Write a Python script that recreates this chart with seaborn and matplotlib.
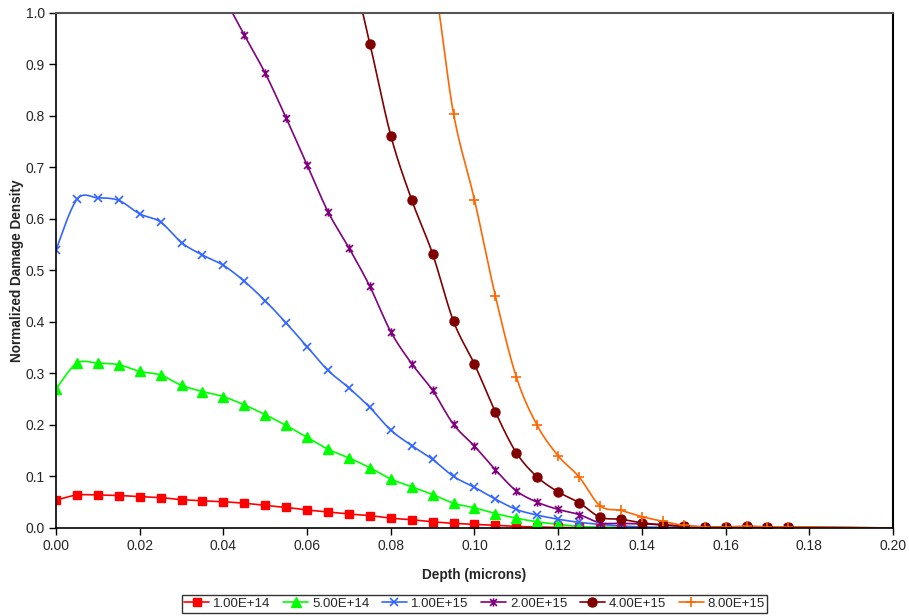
import numpy as np
import pandas as pd
import matplotlib
matplotlib.use("Agg")
import matplotlib.pyplot as plt
from matplotlib.lines import Line2D
from matplotlib.path import Path
import seaborn as sns

# depth points (microns); last point at 0.20 carries the line to the edge without a marker
depth = [0.000, 0.005, 0.010, 0.015, 0.020, 0.025, 0.030, 0.035, 0.040, 0.045,
         0.050, 0.055, 0.060, 0.065, 0.070, 0.075, 0.080, 0.085, 0.090, 0.095,
         0.100, 0.105, 0.110, 0.115, 0.120, 0.125, 0.130, 0.135, 0.140, 0.145,
         0.150, 0.155, 0.160, 0.165, 0.170, 0.175, 0.200]

dose_labels = ["1.00E+14", "5.00E+14", "1.00E+15", "2.00E+15", "4.00E+15", "8.00E+15"]

d_1e14 = [0.054, 0.064, 0.064, 0.063, 0.061, 0.059, 0.055, 0.053, 0.051, 0.048,
          0.044, 0.040, 0.035, 0.031, 0.027, 0.024, 0.019, 0.016, 0.012, 0.009,
          0.007, 0.005, 0.003, 0.002, 0.001, 0.001, 0.0005, 0.0004, 0.0003, 0.0002,
          0.0001, 0.0001, 0.0001, 0.0, 0.0, 0.0, 0.0]
d_5e14 = [0.270, 0.320, 0.320, 0.317, 0.304, 0.297, 0.277, 0.265, 0.255, 0.239,
          0.220, 0.199, 0.176, 0.153, 0.136, 0.117, 0.095, 0.080, 0.065, 0.048,
          0.039, 0.028, 0.019, 0.012, 0.007, 0.003, 0.002, 0.001, 0.001, 0.0005,
          0.0003, 0.0002, 0.0001, 0.0001, 0.0, 0.0, 0.0]
d_1e15 = [0.540, 0.638, 0.641, 0.636, 0.610, 0.594, 0.554, 0.530, 0.510, 0.479,
          0.441, 0.398, 0.352, 0.306, 0.272, 0.234, 0.190, 0.160, 0.133, 0.100,
          0.079, 0.056, 0.036, 0.025, 0.017, 0.011, 0.007, 0.004, 0.002, 0.001,
          0.001, 0.0005, 0.0003, 0.0002, 0.0001, 0.0, 0.0]
d_2e15 = [1.60, 1.52, 1.44, 1.36, 1.28, 1.20, 1.14, 1.08, 1.03, 0.957,
          0.883, 0.796, 0.705, 0.614, 0.544, 0.469, 0.381, 0.319, 0.267, 0.201,
          0.159, 0.113, 0.072, 0.050, 0.036, 0.026, 0.010, 0.009, 0.008, 0.006,
          0.004, 0.002, 0.002, 0.002, 0.001, 0.001, 0.0]
d_4e15 = [1.90, 1.85, 1.80, 1.74, 1.68, 1.62, 1.55, 1.48, 1.41, 1.34,
          1.28, 1.22, 1.18, 1.14, 1.10, 0.940, 0.762, 0.637, 0.532, 0.401,
          0.318, 0.225, 0.146, 0.099, 0.070, 0.049, 0.021, 0.017, 0.010, 0.006,
          0.003, 0.002, 0.002, 0.003, 0.002, 0.002, 0.0]
d_8e15 = [2.00, 1.97, 1.94, 1.90, 1.86, 1.82, 1.77, 1.72, 1.66, 1.60,
          1.52, 1.44, 1.36, 1.28, 1.22, 1.17, 1.13, 1.10, 1.07, 0.804,
          0.637, 0.450, 0.293, 0.199, 0.140, 0.099, 0.043, 0.034, 0.022, 0.013,
          0.005, 0.002, 0.002, 0.003, 0.002, 0.002, 0.0]

series = [d_1e14, d_5e14, d_1e15, d_2e15, d_4e15, d_8e15]
colors = ["#FF0000", "#00FF00", "#3366FF", "#800080", "#800000", "#FF6600"]

# Excel style "x with a vertical bar" star marker
star_path = Path([(-1, -1), (1, 1), (-1, 1), (1, -1), (0, -1.2), (0, 1.2)],
                 [Path.MOVETO, Path.LINETO, Path.MOVETO, Path.LINETO, Path.MOVETO, Path.LINETO])
marker_styles = [
    dict(marker="s", markersize=6, markerfacecolor=colors[0], markeredgecolor=colors[0]),
    dict(marker="^", markersize=6.5, markerfacecolor=colors[1], markeredgecolor=colors[1]),
    dict(marker="x", markersize=6, markerfacecolor="none", markeredgecolor=colors[2], markeredgewidth=1.2),
    dict(marker=star_path, markersize=6, markerfacecolor="none", markeredgecolor=colors[3], markeredgewidth=1.2),
    dict(marker="o", markersize=6.5, markerfacecolor=colors[4], markeredgecolor=colors[4]),
    dict(marker="+", markersize=7, markerfacecolor="none", markeredgecolor=colors[5], markeredgewidth=1.2),
]


def smooth(x, y, n=20):
    # Catmull-Rom / Bezier smoothing similar to Excel's "smoothed line"
    p = np.column_stack([x, y])
    p = np.vstack([p[0], p, p[-1]])
    t = np.linspace(0, 1, n, endpoint=False)[:, None]
    out = []
    for i in range(1, len(p) - 2):
        p0, p1, p2, p3 = p[i - 1], p[i], p[i + 1], p[i + 2]
        c1 = p1 + (p2 - p0) / 6
        c2 = p2 - (p3 - p1) / 6
        seg = ((1 - t) ** 3) * p1 + 3 * ((1 - t) ** 2) * t * c1 + 3 * (1 - t) * t ** 2 * c2 + t ** 3 * p2
        out.append(seg)
    out.append(p[-2][None, :])
    out = np.vstack(out)
    return out[:, 0], out[:, 1]


rows = []
for label, vals in zip(dose_labels, series):
    sx, sy = smooth(np.array(depth), np.array(vals))
    rows.append(pd.DataFrame({"Depth": sx, "Density": sy, "Dose": label}))
curves = pd.concat(rows, ignore_index=True)

sns.set_style("white")
plt.rcParams["font.family"] = ["Liberation Sans", "DejaVu Sans"]

fig = plt.figure(figsize=(9.09, 6.16), dpi=100)
ax = fig.add_axes([0.0616, 0.1429, 0.9208, 0.836])

sns.lineplot(data=curves, x="Depth", y="Density", hue="Dose", palette=dict(zip(dose_labels, colors)),
             sort=False, estimator=None, units="Dose", linewidth=1.2, legend=False, ax=ax)

for vals, st in zip(series, marker_styles):
    ax.plot(depth[:-1], vals[:-1], linestyle="none", clip_on=True, **st)

ax.set_xlim(0, 0.2)
ax.set_ylim(0, 1.0)
ax.set_xticks(np.linspace(0, 0.2, 11))
ax.set_xticklabels([f"{v:.2f}" for v in np.linspace(0, 0.2, 11)])
ax.set_yticks(np.linspace(0, 1.0, 11))
ax.set_yticklabels([f"{v:.1f}" for v in np.linspace(0, 1.0, 11)])
ax.tick_params(axis="both", direction="out", length=5, width=1, color="black",
               labelsize=10, pad=3, bottom=True, left=True)

for side in ["left", "bottom"]:
    ax.spines[side].set_color("black")
    ax.spines[side].set_linewidth(1.2)
ax.spines["top"].set_color("#555555")
ax.spines["top"].set_linewidth(1.5)
ax.spines["right"].set_color("black")
ax.spines["right"].set_linewidth(1.5)

ax.set_xlabel("Depth (microns)", fontsize=9.8, fontweight="bold", labelpad=11)
ax.set_ylabel("Normalized Damage Density", fontsize=9.8, fontweight="bold", labelpad=1)

handles = [Line2D([0], [0], color=c, linewidth=1.2, **st) for c, st in zip(colors, marker_styles)]
leg = fig.legend(handles, dose_labels, loc="center", bbox_to_anchor=(0.522, 0.0195), ncol=6,
                 frameon=True, fontsize=9.5, handlelength=1.9, handletextpad=0.3, columnspacing=0.95,
                 borderpad=0.2, fancybox=False)
leg.get_frame().set_edgecolor("black")
leg.get_frame().set_linewidth(1.0)

plt.savefig("out.png", dpi=100)
